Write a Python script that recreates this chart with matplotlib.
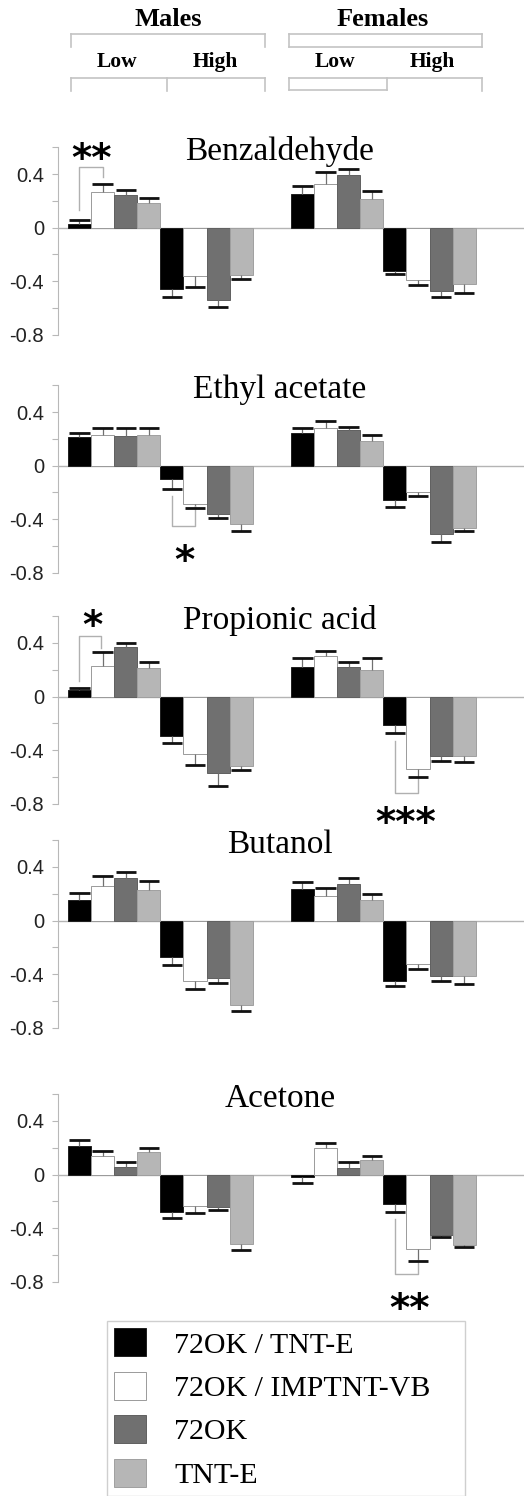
import matplotlib
matplotlib.use("Agg")
import matplotlib.pyplot as plt
from matplotlib.lines import Line2D
import matplotlib.transforms as mtransforms

plt.rcParams["axes.unicode_minus"] = False

# ---- data ----
series = ["72OK / TNT-E", "72OK / IMPTNT-VB", "72OK", "TNT-E"]
odorants = ["Benzaldehyde", "Ethyl acetate", "Propionic acid", "Butanol", "Acetone"]
# each row: males low, males high, females low, females high; columns follow `series`
benzaldehyde = [[0.03, 0.266, 0.241, 0.182],
                [-0.457, -0.362, -0.543, -0.357],
                [0.253, 0.329, 0.392, 0.213],
                [-0.321, -0.393, -0.476, -0.424]]
benzaldehyde_err = [[0.026, 0.058, 0.043, 0.041],
                    [0.062, 0.078, 0.047, 0.024],
                    [0.061, 0.086, 0.048, 0.06],
                    [0.024, 0.036, 0.041, 0.064]]
ethyl_acetate = [[0.21, 0.227, 0.222, 0.232],
                 [-0.10, -0.286, -0.358, -0.435],
                 [0.24, 0.277, 0.269, 0.183],
                 [-0.254, -0.20, -0.514, -0.462]]
ethyl_acetate_err = [[0.03, 0.053, 0.057, 0.047],
                     [0.075, 0.03, 0.035, 0.054],
                     [0.044, 0.053, 0.02, 0.049],
                     [0.055, 0.025, 0.057, 0.027]]
propionic_acid = [[0.05, 0.23, 0.37, 0.215],
                  [-0.296, -0.43, -0.57, -0.52],
                  [0.22, 0.30, 0.22, 0.20],
                  [-0.215, -0.54, -0.44, -0.44]]
propionic_acid_err = [[0.015, 0.10, 0.03, 0.045],
                      [0.051, 0.08, 0.095, 0.025],
                      [0.07, 0.04, 0.04, 0.09],
                      [0.06, 0.06, 0.04, 0.05]]
butanol = [[0.153, 0.26, 0.32, 0.225],
           [-0.274, -0.453, -0.429, -0.63],
           [0.238, 0.182, 0.274, 0.153],
           [-0.448, -0.322, -0.412, -0.417]]
butanol_err = [[0.053, 0.072, 0.039, 0.071],
               [0.058, 0.056, 0.039, 0.041],
               [0.051, 0.058, 0.046, 0.047],
               [0.042, 0.042, 0.036, 0.056]]
acetone = [[0.21, 0.14, 0.06, 0.166],
           [-0.277, -0.235, -0.242, -0.519],
           [-0.02, 0.197, 0.05, 0.11],
           [-0.217, -0.556, -0.452, -0.523]]
acetone_err = [[0.048, 0.036, 0.032, 0.031],
               [0.044, 0.049, 0.025, 0.041],
               [0.042, 0.04, 0.047, 0.029],
               [0.06, 0.086, 0.017, 0.015]]
means = [benzaldehyde, ethyl_acetate, propionic_acid, butanol, acetone]
errors = [benzaldehyde_err, ethyl_acetate_err, propionic_acid_err, butanol_err, acetone_err]

# significance brackets per panel: (x left, x right, y left foot, y bar, y right foot, stars, star x, star y)
brackets = [
    [(0, 1.0, 0.13, 0.455, 0.38, "**", 0.54, 0.42)],
    [(4, 5.0, -0.23, -0.45, -0.305, "*", 4.56, -0.80)],
    [(0, 0.95, 0.12, 0.455, 0.365, "*", 0.54, 0.44),
     (13.65, 14.65, -0.33, -0.72, -0.6, "***", 14.13, -1.03)],
    [],
    [(13.65, 14.65, -0.33, -0.745, -0.64, "**", 14.3, -1.09)],
]

colors = ["#000000", "#ffffff", "#707070", "#b6b6b6"]
edges = ["#202020", "#9a9a9a", "#606060", "#a0a0a0"]
group_start = [0, 4, 9.65, 13.65]

W, H = 524, 1496
fig = plt.figure(figsize=(W / 100, H / 100), dpi=100)


def fx(px):
    return px / W


def fy(py):
    return 1 - py / H


# ---- header with brackets ----
serif = ["Liberation Serif", "DejaVu Serif"]
grey = "#c4c4c4"
header_lines = [
    [(71, 34), (265, 34)], [(71, 34), (71, 47)], [(265, 34), (265, 47)],
    [(289, 34), (482, 34)], [(289, 47), (482, 47)], [(289, 34), (289, 47)], [(482, 34), (482, 47)],
    [(71, 78), (265, 78)], [(71, 78), (71, 91)], [(167, 78), (167, 91)], [(265, 78), (265, 91)],
    [(289, 78), (482, 78)], [(289, 90), (387, 90)], [(289, 78), (289, 90)],
    [(387, 78), (387, 90)], [(482, 78), (482, 91)],
]
for (x0, y0), (x1, y1) in header_lines:
    fig.add_artist(Line2D([fx(x0), fx(x1)], [fy(y0), fy(y1)], color=grey, lw=1.2))
for label, x, y, size in [("Males", 168, 20, 19), ("Females", 383, 20, 19),
                          ("Low", 117, 62, 15.5), ("High", 215, 62, 15.5),
                          ("Low", 335, 62, 15.5), ("High", 432, 62, 15.5)]:
    fig.text(fx(x), fy(y), label, family=serif, weight="bold", fontsize=size,
             ha="center", va="center")

# ---- panels ----
y04 = [174, 412, 643, 867, 1121]   # pixel row of the 0.4 tick in each panel
ppu = 134.0                         # pixels per unit on y
bars_for_legend = []
for k, name in enumerate(odorants):
    bottom_px = y04[k] + 1.2 * ppu
    ax = fig.add_axes([fx(58), fy(bottom_px), fx(466), 1.4 * ppu / H])
    ax.set_xlim(-0.93, 19.24)
    ax.set_ylim(-0.8, 0.6)
    ax.axhline(0, color="#b4b4b4", lw=1.0, zorder=1)

    for s in range(4):
        xs = [group_start[g] + s for g in range(4)]
        vals = [means[k][g][s] for g in range(4)]
        errs = [errors[k][g][s] for g in range(4)]
        bc = ax.bar(xs, vals, width=1.0, color=colors[s], edgecolor=edges[s],
                    linewidth=0.7, zorder=2, label=series[s])
        if k == 0:
            bars_for_legend.append(bc)
        tips = [v + e if v >= 0 else v - e for v, e in zip(vals, errs)]
        ax.vlines(xs, vals, tips, color="#707070", lw=0.9, zorder=3)
        ax.hlines(tips, [x - 0.44 for x in xs], [x + 0.44 for x in xs],
                  color="#111111", lw=2.0, zorder=4)

    for (xa, xb, ya, yt, yb, stars, sx, sy) in brackets[k]:
        ax.plot([xa, xa, xb, xb], [ya, yt, yt, yb], color="#b0b0b0", lw=1.0,
                zorder=3, clip_on=False)
        ax.text(sx, sy, stars, ha="center", va="baseline", fontsize=28,
                fontweight="bold", family="DejaVu Sans", clip_on=False)

    trans = mtransforms.blended_transform_factory(ax.transAxes, ax.transData)
    ax.text(0.476, 0.505, name, transform=trans, ha="center", va="baseline",
            family=serif, fontsize=24)

    for side in ["top", "right", "bottom"]:
        ax.spines[side].set_visible(False)
    ax.spines["left"].set_color("#b8b8b8")
    ax.set_xticks([])
    ax.set_yticks([0.4, 0, -0.4, -0.8])
    ax.set_yticklabels(["0.4", "0", "-0.4", "-0.8"])
    ax.set_yticks([0.6, 0.2, -0.2, -0.6], minor=True)
    ax.tick_params(axis="y", which="both", length=4, width=0.8, color="#b8b8b8",
                   labelsize=14.5, labelcolor="#222222", pad=6)
    for t in ax.get_yticklabels():
        t.set_family(["Liberation Sans", "DejaVu Sans"])
    ax.patch.set_alpha(0)

# ---- legend ----
leg = fig.legend(handles=bars_for_legend, labels=series, loc="upper left",
                 bbox_to_anchor=(fx(107), fy(1321), fx(465 - 107), 0), mode="expand",
                 borderaxespad=0, prop={"family": serif, "size": 21.5},
                 handlelength=1.05, handleheight=1.05, handletextpad=0.95,
                 labelspacing=0.45, borderpad=0.25, fancybox=False, frameon=True)
leg.get_frame().set_edgecolor("#c4c4c4")
leg.get_frame().set_linewidth(1.0)

fig.savefig("out.png", dpi=100)
